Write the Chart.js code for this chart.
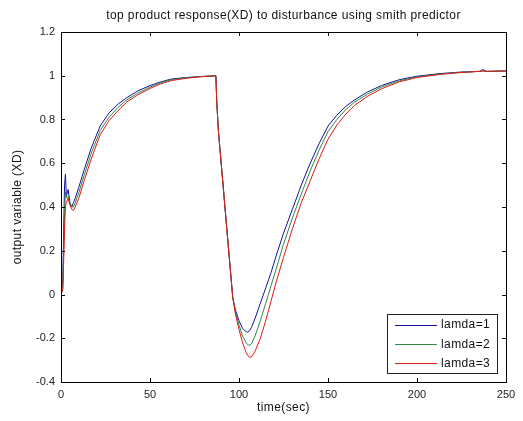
<!DOCTYPE html>
<html>
<head>
<meta charset="utf-8">
<script src="https://cdn.jsdelivr.net/npm/chart.js@4.4.0/dist/chart.umd.min.js"></script>
<style>
  body { margin: 0; background: #fff; }
  #wrap { width: 523px; height: 421px; position: relative; }
</style>
</head>
<body>
<div id="wrap"><canvas id="myChart"></canvas></div>
<script>
// DATOS
const time = [0, 1, 1.5, 2, 2.5, 3, 4, 5, 6, 7, 8, 10, 13, 17, 22, 27, 32, 37, 43, 50, 56, 62, 70, 78, 87,
  87.5, 88.5, 91, 94, 96.5, 98, 100, 102, 104, 105, 106, 107, 109, 112, 115, 118, 121, 125, 130, 135,
  140, 145, 150, 155, 160, 165, 172, 180, 190, 200, 213, 225, 235, 237, 239, 250]

const lamda1 = [0, 0.05, 0.3, 0.5, 0.55, 0.45, 0.48, 0.42, 0.40, 0.42, 0.44, 0.49, 0.57, 0.67, 0.77, 0.83, 0.87, 0.90, 0.93, 0.955, 0.972, 0.985, 0.992, 0.996, 1.0,
  0.88, 0.74, 0.505, 0.22, -0.015, -0.07, -0.12, -0.155, -0.17, -0.172, -0.165, -0.15, -0.11, -0.04, 0.03, 0.10, 0.18, 0.28, 0.39, 0.50,
  0.60, 0.69, 0.77, 0.82, 0.86, 0.89, 0.925, 0.955, 0.982, 0.998, 1.01, 1.017, 1.02, 1.028, 1.02, 1.022]

const lamda2 = [0, 0.03, 0.2, 0.38, 0.47, 0.44, 0.45, 0.42, 0.40, 0.40, 0.42, 0.465, 0.545, 0.645, 0.75, 0.81, 0.855, 0.89, 0.92, 0.948, 0.968, 0.982, 0.99, 0.996, 1.0,
  0.88, 0.74, 0.505, 0.22, -0.015, -0.08, -0.14, -0.19, -0.22, -0.23, -0.232, -0.225, -0.19, -0.12, -0.04, 0.04, 0.12, 0.23, 0.35, 0.46,
  0.565, 0.66, 0.745, 0.80, 0.845, 0.88, 0.915, 0.948, 0.977, 0.995, 1.008, 1.016, 1.02, 1.022, 1.02, 1.022]

const lamda3 = [0, 0.02, 0.15, 0.3, 0.4, 0.42, 0.44, 0.41, 0.39, 0.385, 0.40, 0.44, 0.52, 0.62, 0.73, 0.795, 0.84, 0.88, 0.912, 0.942, 0.963, 0.978, 0.988, 0.995, 1.0,
  0.88, 0.74, 0.505, 0.22, -0.015, -0.09, -0.16, -0.22, -0.265, -0.28, -0.287, -0.285, -0.26, -0.20, -0.12, -0.03, 0.06, 0.17, 0.30, 0.42,
  0.52, 0.62, 0.71, 0.775, 0.825, 0.865, 0.905, 0.94, 0.972, 0.992, 1.006, 1.015, 1.02, 1.022, 1.02, 1.022]

const etiquetas = ['lamda=1', 'lamda=2', 'lamda=3']
const colores = ['#12129a', '#2f8a40', '#e01818']
const xTicks = [0, 50, 100, 150, 200, 250]
const yTicks = [-0.4, -0.2, 0, 0.2, 0.4, 0.6, 0.8, 1, 1.2]

const titulo = 'top product response(XD) to disturbance using smith predictor'
const tituloX = 'time(sec)'
const tituloY = 'output variable (XD)'

const FONT = '12px "Liberation Sans", Arial, sans-serif'

function puntos(arr) {
  return arr.map((v, i) => ({ x: time[i], y: v }))
}

// marco, ticks hacia adentro, titulos y leyenda (estilo matlab)
const marcoMatlab = {
  id: 'marcoMatlab',
  afterDraw(chart) {
    const ctx = chart.ctx
    const a = chart.chartArea
    const sx = chart.scales.x
    const sy = chart.scales.y
    ctx.save()
    ctx.strokeStyle = '#000'
    ctx.lineWidth = 1
    ctx.strokeRect(Math.round(a.left) + 0.5, Math.round(a.top) + 0.5, Math.round(a.right - a.left), Math.round(a.bottom - a.top))

    const tl = 4
    ctx.beginPath()
    xTicks.forEach(t => {
      const px = Math.round(sx.getPixelForValue(t)) + 0.5
      ctx.moveTo(px, a.bottom); ctx.lineTo(px, a.bottom - tl)
      ctx.moveTo(px, a.top); ctx.lineTo(px, a.top + tl)
    })
    yTicks.forEach(t => {
      const py = Math.round(sy.getPixelForValue(t)) + 0.5
      ctx.moveTo(a.left, py); ctx.lineTo(a.left + tl, py)
      ctx.moveTo(a.right, py); ctx.lineTo(a.right - tl, py)
    })
    ctx.stroke()

    // titulos
    ctx.fillStyle = '#111'
    ctx.font = FONT
    ctx.letterSpacing = '0.4px'
    ctx.textAlign = 'center'
    ctx.textBaseline = 'middle'
    ctx.fillText(titulo, (a.left + a.right) / 2, 16)
    ctx.fillText(tituloX, (a.left + a.right) / 2, 408)
    ctx.save()
    ctx.translate(18, (a.top + a.bottom) / 2)
    ctx.rotate(-Math.PI / 2)
    ctx.fillText(tituloY, 0, 0)
    ctx.restore()

    // leyenda
    const lx = 387, ly = 314, lw = 110, lh = 59
    ctx.fillStyle = '#fff'
    ctx.fillRect(lx, ly, lw, lh)
    ctx.strokeStyle = '#222'
    ctx.strokeRect(lx + 0.5, ly + 0.5, lw, lh)
    ctx.textAlign = 'left'
    etiquetas.forEach((lab, i) => {
      const yy = ly + 10.5 + i * 19.3
      ctx.strokeStyle = colores[i]
      ctx.beginPath()
      ctx.moveTo(395, Math.round(yy) + 0.5)
      ctx.lineTo(437, Math.round(yy) + 0.5)
      ctx.stroke()
      ctx.fillStyle = '#111'
      ctx.fillText(lab, 441, yy + 0.5)
    })
    ctx.restore()
  }
}

const ctx = document.getElementById('myChart').getContext('2d')

const chart = new Chart(ctx, {
  type: 'line',
  data: {
    datasets: [
      { label: etiquetas[0], data: puntos(lamda1), borderColor: colores[0], order: 2 },
      { label: etiquetas[1], data: puntos(lamda2), borderColor: colores[1], order: 1 },
      { label: etiquetas[2], data: puntos(lamda3), borderColor: colores[2], order: 0 }
    ]
  },
  options: {
    responsive: true,
    maintainAspectRatio: false,
    animation: false,
    layout: { padding: { top: 32, right: 17, left: 0, bottom: 0 } },
    elements: {
      line: { borderWidth: 1, tension: 0, fill: false },
      point: { radius: 0, hoverRadius: 0 }
    },
    plugins: {
      legend: { display: false },
      title: { display: false },
      tooltip: { enabled: false }
    },
    scales: {
      x: {
        type: 'linear',
        min: 0,
        max: 250,
        afterFit(scale) { scale.height = 39 },
        afterBuildTicks(scale) { scale.ticks = xTicks.map(v => ({ value: v })) },
        grid: { display: false, drawTicks: false },
        border: { display: false },
        ticks: { color: '#222', font: { family: '"Liberation Sans", Arial, sans-serif', size: 11 }, padding: 6, maxRotation: 0 }
      },
      y: {
        type: 'linear',
        min: -0.4,
        max: 1.2,
        afterFit(scale) { scale.width = 61 },
        afterBuildTicks(scale) { scale.ticks = yTicks.map(v => ({ value: v })) },
        grid: { display: false, drawTicks: false },
        border: { display: false },
        ticks: {
          color: '#222',
          font: { family: '"Liberation Sans", Arial, sans-serif', size: 11 },
          padding: 6,
          callback: v => String(Number(v.toFixed(1)))
        }
      }
    }
  },
  plugins: [marcoMatlab]
})
</script>
</body>
</html>
